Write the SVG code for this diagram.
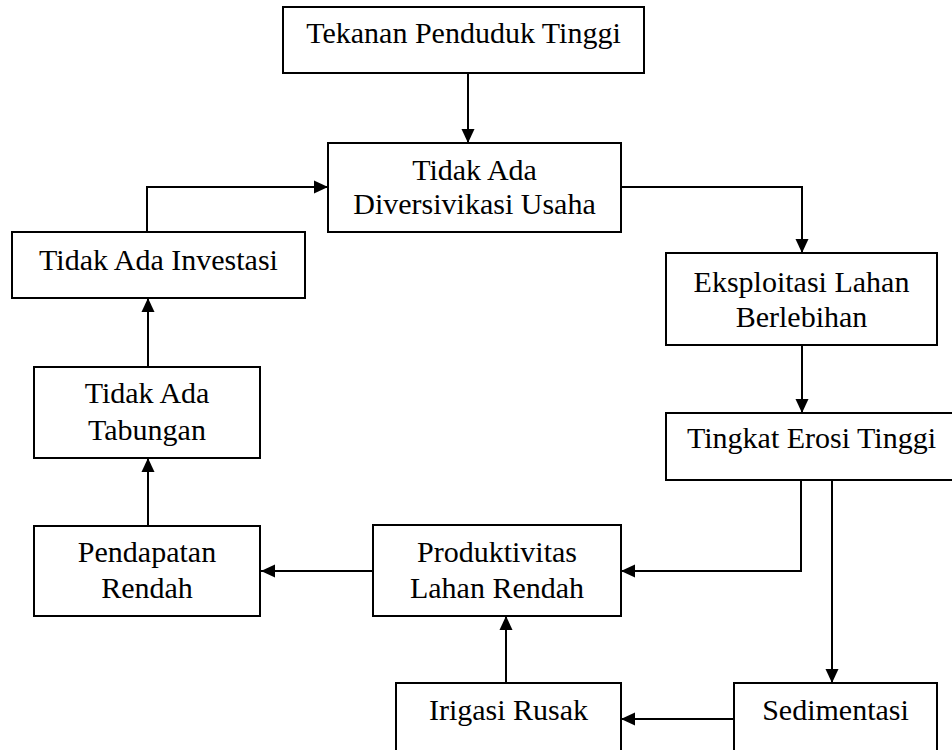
<svg xmlns="http://www.w3.org/2000/svg" width="952" height="750" viewBox="0 0 952 750">
<style>
.box{fill:#fff;stroke:#000;stroke-width:2}
.t{font-family:"Liberation Serif","Times New Roman",serif;font-size:30px;fill:#000;text-anchor:middle}
.c{fill:none;stroke:#000;stroke-width:2}
</style>
<defs>
<marker id="ah" markerUnits="userSpaceOnUse" markerWidth="15" markerHeight="14" refX="14" refY="7" orient="auto">
<path d="M0,0.5 L14,7 L0,13.5 Z" fill="#000"/>
</marker>
</defs>
<rect width="952" height="750" fill="#fff"/>
<g id="connectors">
<path class="c" d="M468,73 V143" marker-end="url(#ah)"/>
<path class="c" d="M621,187 H802 V253" marker-end="url(#ah)"/>
<path class="c" d="M802,345 V413" marker-end="url(#ah)"/>
<path class="c" d="M801,480 V571 H621" marker-end="url(#ah)"/>
<path class="c" d="M832,480 V683" marker-end="url(#ah)"/>
<path class="c" d="M734,719 H621" marker-end="url(#ah)"/>
<path class="c" d="M506,683 V616" marker-end="url(#ah)"/>
<path class="c" d="M373,571 H261" marker-end="url(#ah)"/>
<path class="c" d="M148,526 V458" marker-end="url(#ah)"/>
<path class="c" d="M148,367 V298" marker-end="url(#ah)"/>
<path class="c" d="M147,232 V187 H328" marker-end="url(#ah)"/>
</g>
<g id="n1"><rect class="box" x="283" y="7" width="361" height="66"/><text class="t" x="463.5" y="43">Tekanan Penduduk Tinggi</text></g>
<g id="n2"><rect class="box" x="328" y="143" width="293" height="89"/><text class="t" x="474.5" y="180">Tidak Ada</text><text class="t" x="474.5" y="214">Diversivikasi Usaha</text></g>
<g id="n3"><rect class="box" x="12" y="232" width="293" height="66"/><text class="t" x="158.5" y="270">Tidak Ada Investasi</text></g>
<g id="n4"><rect class="box" x="666" y="253" width="271" height="92"/><text class="t" x="801.5" y="292">Eksploitasi Lahan</text><text class="t" x="801.5" y="327">Berlebihan</text></g>
<g id="n5"><rect class="box" x="34" y="367" width="226" height="91"/><text class="t" x="147" y="403">Tidak Ada</text><text class="t" x="147" y="440">Tabungan</text></g>
<g id="n6"><rect class="box" x="666" y="413" width="291" height="67"/><text class="t" x="811.5" y="448">Tingkat Erosi Tinggi</text></g>
<g id="n7"><rect class="box" x="34" y="526" width="226" height="90"/><text class="t" x="147" y="562">Pendapatan</text><text class="t" x="147" y="598">Rendah</text></g>
<g id="n8"><rect class="box" x="373" y="525" width="248" height="91"/><text class="t" x="497" y="562">Produktivitas</text><text class="t" x="497" y="598">Lahan Rendah</text></g>
<g id="n9"><rect class="box" x="396" y="683" width="225" height="80"/><text class="t" x="508.5" y="720">Irigasi Rusak</text></g>
<g id="n10"><rect class="box" x="734" y="683" width="203" height="80"/><text class="t" x="835.5" y="720">Sedimentasi</text></g>
</svg>
